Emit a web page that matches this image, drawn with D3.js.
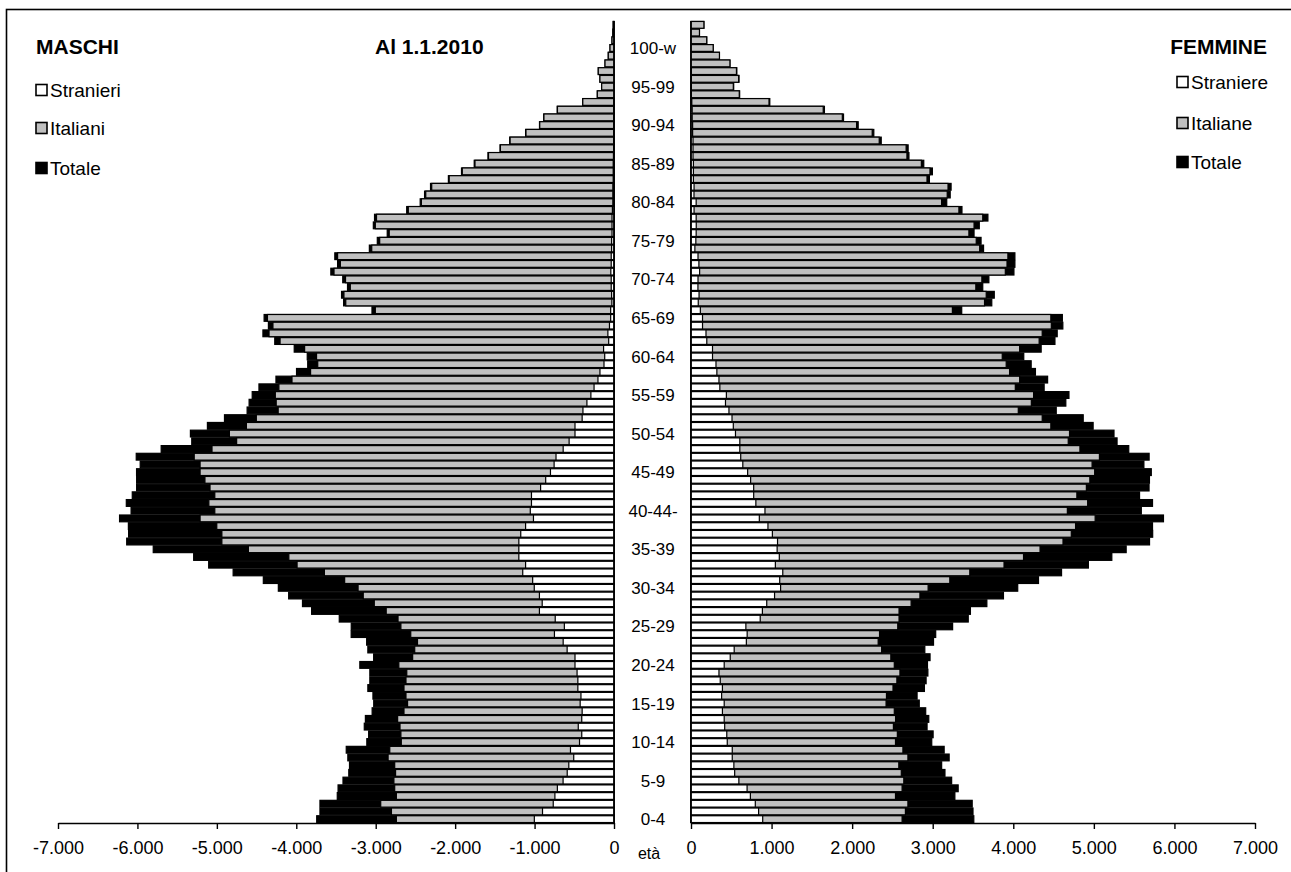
<!DOCTYPE html>
<html><head><meta charset="utf-8">
<script src="https://cdn.jsdelivr.net/npm/d3@7/dist/d3.min.js"></script>
<style>
html,body{margin:0;padding:0;background:#fff;}
svg{display:block;font-family:"Liberation Sans",Arial,Helvetica,sans-serif;}
</style></head><body>
<svg id="chart" width="1291" height="872"></svg>
<script>
// ---- categories: single years of age (0 .. 103), bottom to top
const ages = [0,1,2,3,4,5,6,7,8,9,10,11,12,13,14,15,16,17,18,19,20,21,22,23,24,25,26,27,28,29,30,31,32,33,34,35,36,37,38,39,40,41,42,43,44,45,46,47,48,49,50,51,52,53,54,55,56,57,58,59,60,61,62,63,64,65,66,67,68,69,70,71,72,73,74,75,76,77,78,79,80,81,82,83,84,85,86,87,88,89,90,91,92,93,94,95,96,97,98,99,100,101,102,103];
// age-class labels shown every 5 years
const ageLabelAges = [0,5,10,15,20,25,30,35,40,45,50,55,60,65,70,75,80,85,90,95,100];
const ageLabels = ["0-4","5-9","10-14","15-19","20-24","25-29","30-34","35-39","40-44-","45-49","50-54","55-59","60-64","65-69","70-74","75-79","80-84","85-89","90-94","95-99","100-w"];

// ---- MASCHI (index = age)
const maschiStranieri = [1003,900,765,744,713,641,589,569,507,548,434,406,450,406,401,426,416,455,455,465,491,491,590,640,750,625,740,939,904,939,1004,1024,1149,1113,1198,1198,1198,1174,1113,1014,1054,1039,1039,924,860,800,754,730,640,565,491,491,401,391,341,291,251,202,177,126,117,131,67,77,57,42,42,27,30,35,35,40,35,35,30,30,25,25,25,20,15,15,15,10,10,10,7,5,5,5,3,3,3,2,0,0,0,0,0,0,0,0,0,0];
const maschiItaliani = [2740,2802,2937,2740,2761,2771,2750,2761,2844,2823,2678,2683,2694,2724,2644,2599,2619,2644,2619,2609,2709,2535,2509,2474,2559,2683,2719,2868,3018,3157,3222,3391,3646,3990,4094,4603,4937,4937,5001,5211,5026,5101,5026,5086,5150,5211,5211,5285,5061,4751,4842,4628,4503,4228,4253,4264,4219,4054,3820,3730,3745,3895,4204,4343,4294,4363,3005,3377,3400,3320,3380,3525,3445,3480,3050,2950,2830,3005,2990,2590,2425,2370,2295,2075,1910,1750,1580,1430,1308,1108,935,882,712,393,210,155,177,198,113,72,50,25,15,10];

// ---- FEMMINE (index = age)
const femmineStraniere = [890,839,798,737,696,594,542,532,512,512,450,444,418,412,390,412,380,390,363,347,412,487,536,687,697,681,859,886,940,1037,1112,1101,1139,1047,1096,1069,1074,1010,955,848,918,805,778,778,740,703,643,617,606,606,552,525,509,471,428,439,358,347,321,310,267,267,196,186,143,143,116,90,100,86,87,107,98,87,48,60,64,65,64,38,64,37,38,30,30,30,25,25,25,20,20,15,15,10,5,5,5,5,0,0,0,0,0,0];
const femmineItaliane = [2620,2661,2692,2538,2620,2641,2610,2579,2692,2630,2538,2561,2512,2539,2523,2421,2426,2507,2555,2593,2523,2480,2366,2323,2340,2566,2582,2582,2732,2841,2943,3212,3460,3885,4127,4332,4617,4720,4773,5016,4671,4923,4789,4907,4950,5010,4978,5069,4827,4682,4698,4466,4359,4062,4224,4252,4025,4079,3954,3912,3863,4079,4321,4359,4472,4466,3244,3643,3664,3535,3610,3901,3922,3933,3583,3540,3449,3513,3621,3325,3110,3180,3190,2929,2966,2859,2680,2670,2336,2249,2055,1878,1641,968,599,525,591,564,483,353,275,195,105,160];

// Totale = Italiani + Stranieri (as in the source table)
const maschiTotale = maschiItaliani.map((v, i) => v + maschiStranieri[i]);
const femmineTotale = femmineItaliane.map((v, i) => v + femmineStraniere[i]);

// ---- axis ticks
const leftTicks = [-7000,-6000,-5000,-4000,-3000,-2000,-1000,0];
const leftTickLabels = ["-7.000","-6.000","-5.000","-4.000","-3.000","-2.000","-1.000","0"];
const rightTicks = [0,1000,2000,3000,4000,5000,6000,7000];
const rightTickLabels = ["0","1.000","2.000","3.000","4.000","5.000","6.000","7.000"];

// ---- texts
const leftHeader = "MASCHI", dateHeader = "Al 1.1.2010", rightHeader = "FEMMINE";
const leftLegend = ["Stranieri","Italiani","Totale"];
const rightLegend = ["Straniere","Italiane","Totale"];
const seriesFill = ["#ffffff","#c0c0c0","#000000"];

const W = 1291, H = 872;
const svg = d3.select("#chart");
svg.append("rect").attr("width", W).attr("height", H).attr("fill", "#fff");

// outer frame (runs off the right/bottom edges)
svg.append("rect").attr("x", 6.5).attr("y", 9.5).attr("width", 1320).attr("height", 900)
  .attr("fill", "none").attr("stroke", "#000").attr("stroke-width", 1.6);

const plotTop = 21, plotBottom = 823;
const y = d3.scaleBand().domain(ages.slice().reverse()).range([plotTop, plotBottom])
  .paddingInner(0.12).paddingOuter(0.06);
const xL = d3.scaleLinear().domain([-7000, 0]).range([58, 614]);
const xR = d3.scaleLinear().domain([0, 7000]).range([691, 1255]);

function drawSide(scale, series, left) {
  const g = svg.append("g");
  series.forEach((vals) => {
    g.append("g").selectAll("rect").data(ages).join("rect")
      .attr("x", a => left ? scale(-vals.data[a]) : scale(0))
      .attr("width", a => left ? scale(0) - scale(-vals.data[a]) : scale(vals.data[a]) - scale(0))
      .attr("y", a => y(a))
      .attr("height", y.bandwidth())
      .attr("fill", vals.fill)
      .attr("stroke", "#000").attr("stroke-width", 1.2);
  });
}
drawSide(xL, [
  {data: maschiTotale, fill: seriesFill[2]},
  {data: maschiItaliani, fill: seriesFill[1]},
  {data: maschiStranieri, fill: seriesFill[0]}
], true);
drawSide(xR, [
  {data: femmineTotale, fill: seriesFill[2]},
  {data: femmineItaliane, fill: seriesFill[1]},
  {data: femmineStraniere, fill: seriesFill[0]}
], false);

// vertical axis lines
[xL(0), xR(0)].forEach(x => {
  svg.append("line").attr("x1", x).attr("x2", x).attr("y1", plotTop).attr("y2", plotBottom)
    .attr("stroke", "#000").attr("stroke-width", 1.6);
});

// x axes
function styleAxis(g) {
  g.select(".domain").attr("stroke", "#000").attr("stroke-width", 1.6);
  g.selectAll(".tick line").attr("stroke", "#000").attr("stroke-width", 1.4);
  g.selectAll(".tick text").attr("fill", "#000").attr("font-size", 18)
    .attr("font-family", "'Liberation Sans', Arial, sans-serif");
}
svg.append("g").attr("transform", `translate(0,${plotBottom})`)
  .call(d3.axisBottom(xL).tickValues(leftTicks).tickFormat((d, i) => leftTickLabels[i])
    .tickSize(6).tickSizeOuter(0).tickPadding(12))
  .call(styleAxis);
svg.append("g").attr("transform", `translate(0,${plotBottom})`)
  .call(d3.axisBottom(xR).tickValues(rightTicks).tickFormat((d, i) => rightTickLabels[i])
    .tickSize(6).tickSizeOuter(0).tickPadding(12))
  .call(styleAxis);

// age class labels
svg.append("g").selectAll("text").data(ageLabelAges).join("text")
  .attr("x", 653).attr("y", a => y(a) + y.bandwidth() / 2)
  .attr("dy", "0.36em").attr("text-anchor", "middle")
  .attr("font-size", 17).attr("fill", "#000")
  .text((a, i) => ageLabels[i]);
svg.append("text").attr("x", 649).attr("y", 859).attr("text-anchor", "middle")
  .attr("font-size", 16).attr("fill", "#000").text("età");

// headers
svg.append("text").attr("x", 36).attr("y", 54).attr("font-size", 21).attr("font-weight", "bold").text(leftHeader);
svg.append("text").attr("x", 375).attr("y", 54).attr("font-size", 21).attr("font-weight", "bold").text(dateHeader);
svg.append("text").attr("x", 1267).attr("y", 54).attr("text-anchor", "end").attr("font-size", 21).attr("font-weight", "bold").text(rightHeader);

// legends
function legend(x, centers, labels) {
  labels.forEach((t, i) => {
    svg.append("rect").attr("x", x).attr("y", centers[i] - 5.5).attr("width", 11).attr("height", 11)
      .attr("fill", seriesFill[i]).attr("stroke", "#000").attr("stroke-width", 1.6);
    svg.append("text").attr("x", x + 14).attr("y", centers[i] + 7).attr("font-size", 19).text(t);
  });
}
legend(36, [90, 128, 168], leftLegend);
legend(1177, [82, 123, 162], rightLegend);
</script>
</body></html>
